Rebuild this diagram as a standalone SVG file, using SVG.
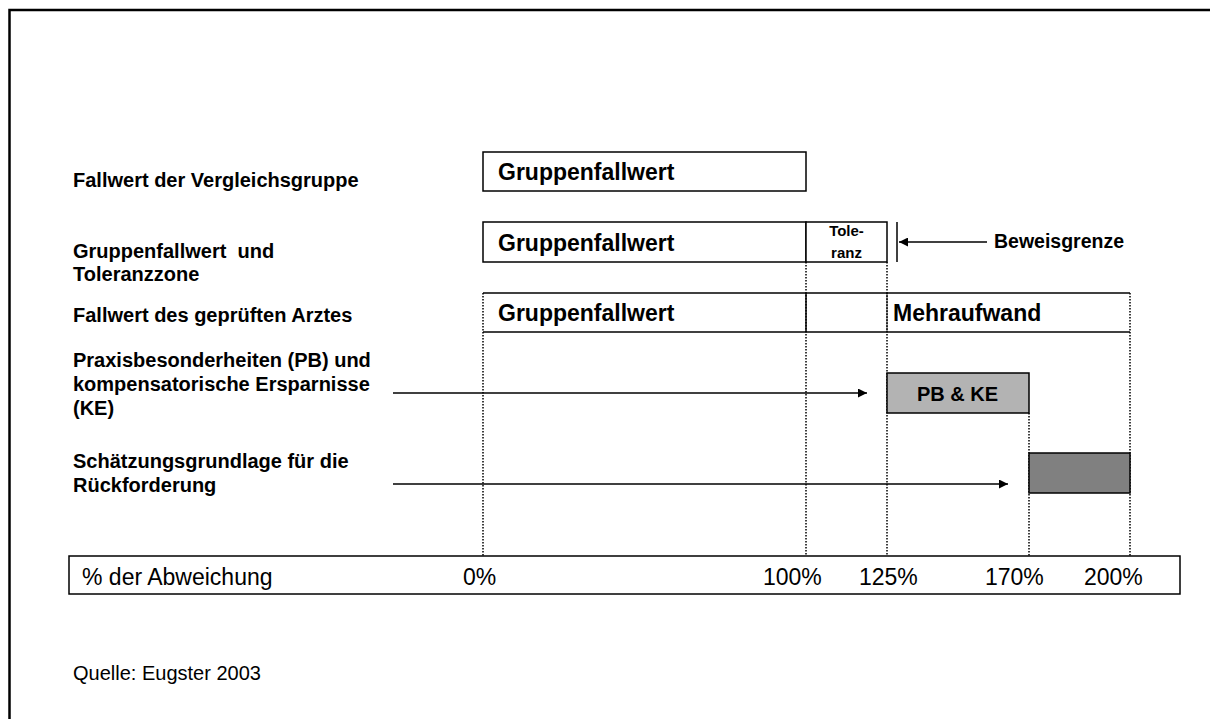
<svg xmlns="http://www.w3.org/2000/svg" width="1210" height="719" viewBox="0 0 1210 719">
<style>
text{font-family:"Liberation Sans",Arial,sans-serif;fill:#000}
.lbl{font-size:20px;font-weight:bold}
.big{font-size:23px;font-weight:bold}
.ax{font-size:23px}
.box{fill:#fff;stroke:#000;stroke-width:1.5}
.dot{stroke:#000;stroke-width:1.5;stroke-dasharray:1.5 1.5;fill:none}
.sol{stroke:#000;stroke-width:1.5;fill:none}
</style>
<defs>
<marker id="ah" viewBox="0 0 10 10" refX="10" refY="5" markerWidth="10" markerHeight="9" markerUnits="userSpaceOnUse" orient="auto">
<path d="M0,0 L10,5 L0,10 z" fill="#000"/>
</marker>
</defs>
<rect width="1210" height="719" fill="#fff"/>
<g id="frame">
<path d="M9.5,719 V10 H1210" fill="none" stroke="#000" stroke-width="2.5"/>
</g>
<g id="row-labels">
<text class="lbl" x="73" y="187">Fallwert der Vergleichsgruppe</text>
<text class="lbl" x="73" y="258" xml:space="preserve">Gruppenfallwert  und</text>
<text class="lbl" x="73" y="281">Toleranzzone</text>
<text class="lbl" x="73" y="322">Fallwert des geprüften Arztes</text>
<text class="lbl" x="73" y="367">Praxisbesonderheiten (PB) und</text>
<text class="lbl" x="73" y="391">kompensatorische Ersparnisse</text>
<text class="lbl" x="73" y="415">(KE)</text>
<text class="lbl" x="73" y="468">Schätzungsgrundlage für die</text>
<text class="lbl" x="73" y="492">Rückforderung</text>
</g>
<g id="guides">
<line class="dot" x1="483" y1="293" x2="483" y2="556"/>
<line class="dot" x1="806" y1="262" x2="806" y2="556"/>
<line class="dot" x1="887" y1="262" x2="887" y2="556"/>
<line class="dot" x1="1029" y1="413" x2="1029" y2="556"/>
<line class="dot" x1="1130" y1="293" x2="1130" y2="556"/>
</g>
<g id="box-vergleichsgruppe">
<rect class="box" x="483" y="152" width="323" height="39"/>
<text class="big" x="498" y="180">Gruppenfallwert</text>
</g>
<g id="box-gruppenfallwert-toleranz">
<rect class="box" x="483" y="222" width="323" height="40"/>
<text class="big" x="498" y="251">Gruppenfallwert</text>
</g>
<g id="box-toleranz">
<rect class="box" x="806" y="222" width="81" height="40"/>
<text x="846.5" y="236" font-size="15" font-weight="bold" text-anchor="middle">Tole-</text>
<text x="846.5" y="258" font-size="15" font-weight="bold" text-anchor="middle">ranz</text>
</g>
<g id="box-arzt">
<line class="sol" x1="483" y1="293" x2="1130" y2="293"/>
<line class="sol" x1="483" y1="332" x2="1130" y2="332"/>
<line class="sol" x1="806" y1="293" x2="806" y2="332"/>
<line class="dot" x1="887" y1="293" x2="887" y2="332"/>
<text class="big" x="498" y="321">Gruppenfallwert</text>
<text class="big" x="893" y="321">Mehraufwand</text>
</g>
<g id="box-pbke">
<rect x="887" y="373" width="142" height="40" fill="#b3b3b3" stroke="#000" stroke-width="1.5"/>
<text x="957.5" y="401" font-size="20" font-weight="bold" text-anchor="middle">PB &amp; KE</text>
</g>
<g id="box-rueckforderung">
<rect x="1029" y="453" width="101" height="40" fill="#808080" stroke="#000" stroke-width="1.5"/>
</g>
<g id="beweisgrenze">
<line class="sol" x1="897" y1="222" x2="897" y2="262"/>
<text x="994" y="248" font-size="19.5" font-weight="bold">Beweisgrenze</text>
</g>
<g id="connectors">
<line class="sol" x1="987" y1="242" x2="899" y2="242" marker-end="url(#ah)"/>
<line class="sol" x1="393" y1="393" x2="867" y2="393" marker-end="url(#ah)"/>
<line class="sol" x1="393" y1="484" x2="1008" y2="484" marker-end="url(#ah)"/>
</g>
<g id="axis">
<rect class="box" x="69" y="556" width="1111" height="38"/>
<text class="ax" x="82" y="585">% der Abweichung</text>
<text class="ax" x="463" y="585">0%</text>
<text class="ax" x="763" y="585">100%</text>
<text class="ax" x="859" y="585">125%</text>
<text class="ax" x="985" y="585">170%</text>
<text class="ax" x="1084" y="585">200%</text>
</g>
<g id="source">
<text x="73" y="680" font-size="20">Quelle: Eugster 2003</text>
</g>
</svg>
